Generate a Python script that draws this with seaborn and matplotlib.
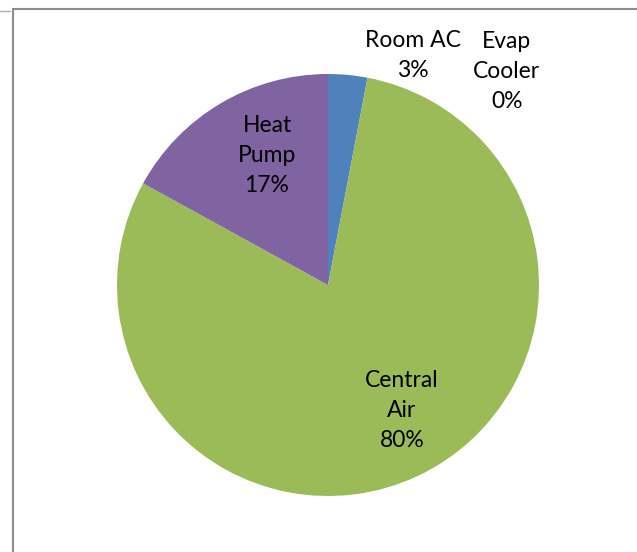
import numpy as np
import pandas as pd
import matplotlib.pyplot as plt
import seaborn as sns
from matplotlib.lines import Line2D

categories = ['Room AC', 'Evap Cooler', 'Central Air', 'Heat Pump']
shares = [3, 0, 80, 17]
label_text = ['Room AC\n3%', 'Evap\nCooler\n0%', 'Central\nAir\n80%', 'Heat\nPump\n17%']

sns.set_theme(style='white')
plt.rcParams['font.family'] = ['Lato', 'DejaVu Sans']

colors = ['#4F81BD', '#C0504D', '#9BBB59', '#8064A2']

df = pd.DataFrame({'category': categories, 'share': shares})

fig = plt.figure(figsize=(6.37, 5.52), dpi=100)
# pie centre at (328, 285) px, radius 211 px
ax = fig.add_axes([(328 - 211) / 637, (552 - 285 - 211) / 552, 422 / 637, 422 / 552])
ax.pie(df['share'], colors=colors, startangle=90, counterclock=False,
       radius=1, wedgeprops=dict(linewidth=0))
ax.set_xlim(-1, 1)
ax.set_ylim(-1, 1)
ax.set_aspect('equal')
ax.axis('off')

# label positions in pie units
label_pos = [(0.403, 1.09), (0.848, 1.014), (0.351, -0.597), (-0.289, 0.616)]
for txt, (x, y) in zip(label_text, label_pos):
    ax.text(x, y, txt, ha='center', va='center', fontsize=16.5,
            color='black', linespacing=1.53)

# outer frame lines like the spreadsheet chart border
fw, fh = 637, 552
fig.add_artist(Line2D([13 / fw, 13 / fw], [0, 1 - 9 / fh], color='#8c8c8c', lw=1.5))
fig.add_artist(Line2D([13 / fw, 1], [1 - 9 / fh, 1 - 9 / fh], color='#8c8c8c', lw=1.5))
fig.add_artist(Line2D([0, 10 / fw], [1 - 11 / fh, 1 - 11 / fh], color='#b0b0b0', lw=1))

fig.savefig('out.png', dpi=100)
